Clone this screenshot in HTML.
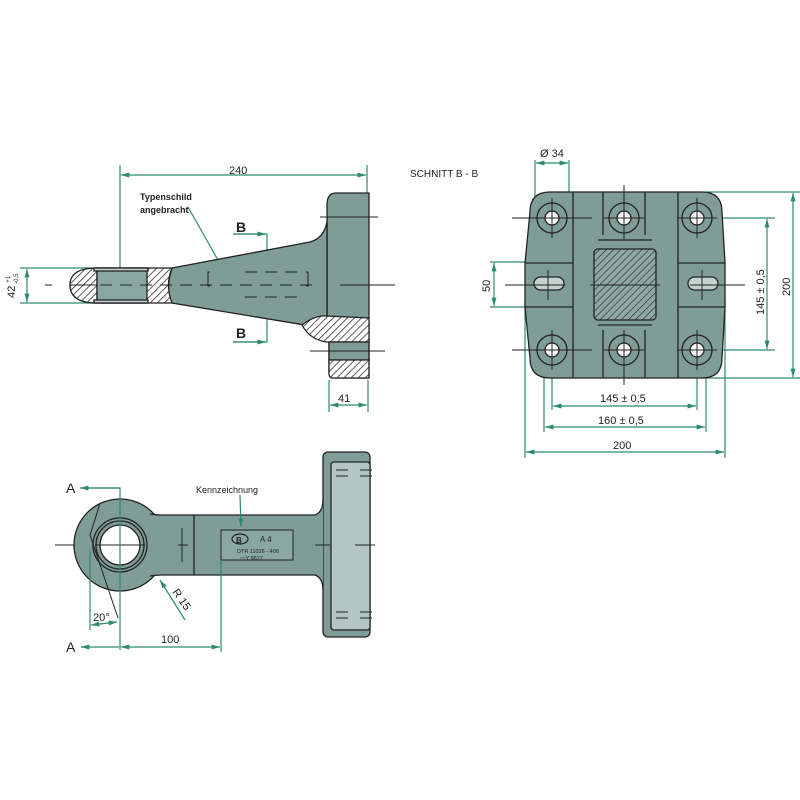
<!DOCTYPE html>
<html><head><meta charset="utf-8"><style>
html,body{margin:0;padding:0;background:#fff}
svg{display:block}
text{font-family:"Liberation Sans",sans-serif;fill:#222}
</style></head><body>
<svg width="800" height="800" viewBox="0 0 800 800">
<defs>
<pattern id="h" width="5" height="5" patternUnits="userSpaceOnUse" patternTransform="rotate(45)">
<rect width="5" height="5" fill="#fff"/><line x1="0" y1="0" x2="0" y2="5" stroke="#333" stroke-width="1.6"/></pattern>
<pattern id="hg" width="5" height="5" patternUnits="userSpaceOnUse" patternTransform="rotate(45)">
<rect width="5" height="5" fill="#8fa8a3"/><line x1="0" y1="0" x2="0" y2="5" stroke="#333" stroke-width="1.4"/></pattern>
<marker id="a" viewBox="0 0 10 10" refX="10" refY="5" markerWidth="7" markerHeight="7" orient="auto-start-reverse"><path d="M0,2 L10,5 L0,8z" fill="#2e8a70"/></marker>
</defs>
<g stroke="#2e8a70" stroke-width="1.2" fill="none">
<line x1="120" y1="165" x2="120" y2="268"/><line x1="367" y1="165" x2="367" y2="193"/>
<line x1="121" y1="175" x2="366" y2="175" marker-start="url(#a)" marker-end="url(#a)"/>
<line x1="20" y1="268" x2="97" y2="268"/><line x1="20" y1="303" x2="97" y2="303"/>
<line x1="27" y1="269" x2="27" y2="302" marker-start="url(#a)" marker-end="url(#a)"/>
<line x1="329" y1="380" x2="329" y2="412"/><line x1="368" y1="380" x2="368" y2="412"/>
<line x1="330" y1="405" x2="367" y2="405" marker-start="url(#a)" marker-end="url(#a)"/>
<polyline points="233,234 267,234 267,342 233,342"/>
<line x1="233" y1="234" x2="266" y2="234" marker-end="url(#a)"/><line x1="233" y1="342" x2="266" y2="342" marker-end="url(#a)"/>
<line x1="188" y1="207" x2="227" y2="276" marker-end="url(#a)"/>
</g>
<text x="229" y="174" font-size="11">240</text>
<text x="140" y="200" font-size="9" font-weight="bold">Typenschild</text>
<text x="140" y="213" font-size="9" font-weight="bold">angebracht</text>
<text x="236" y="232" font-size="14" font-weight="bold">B</text>
<text x="236" y="338" font-size="14" font-weight="bold">B</text>
<text x="338" y="402" font-size="11">41</text>
<text transform="translate(15,298) rotate(-90)" font-size="11">42 <tspan font-size="6" dy="-5">+1</tspan><tspan font-size="6" dx="-8" dy="8">-0,5</tspan></text>
<text x="410" y="177" font-size="10">SCHNITT  B - B</text>
<g stroke="#222" stroke-width="1.3">
<path d="M336,193 L369,193 L369,378 L333,378 Q329,378 329,372 L329,318 L327,318 L327,205 Q327,193 336,193Z" fill="#7f9c97"/>
<path d="M172,268 L310,242 Q324,238 327,222 L327,318 Q315,316 305,325 L172,303 Q165,290 172,268Z" fill="#7f9c97"/>
<path d="M97,268 L172,268 Q165,285 172,303 L97,303Z" fill="url(#h)"/>
<path d="M97,268 Q70,268 70,285 Q70,303 97,303Z" fill="url(#h)"/>
<rect x="97" y="268" width="50" height="35" fill="#8aa7a2"/>
<rect x="94" y="268" width="54" height="3" fill="#c4d2cf"/><rect x="94" y="300" width="54" height="3" fill="#c4d2cf"/>
<path d="M302,325 Q315,315 327,316 L369,318 L369,342 L327,342 Q310,340 302,325Z" fill="url(#h)"/>
<rect x="329" y="342" width="40" height="18" fill="#7f9c97"/>
<path d="M329,360 L369,360 L369,378 L333,378 Q329,378 329,374Z" fill="url(#h)"/>
</g>
<g stroke="#222" stroke-width="1" fill="none">
<line x1="70" y1="285" x2="97" y2="285"/>
<line x1="45" y1="285" x2="52" y2="285"/><line x1="100" y1="285" x2="320" y2="285" stroke-dasharray="12,8"/>
<line x1="340" y1="285" x2="395" y2="285"/>
<path d="M210,272 h-2 v14 h2 M306,272 h2 v14 h-2"/>
<line x1="245" y1="272" x2="300" y2="272" stroke-dasharray="12,8"/><line x1="245" y1="297" x2="300" y2="297" stroke-dasharray="12,8"/>
<line x1="320" y1="217" x2="378" y2="217"/><line x1="310" y1="351" x2="385" y2="351"/>
</g>
<g stroke="#2e8a70" stroke-width="1.2" fill="none">
<line x1="535" y1="160" x2="535" y2="210"/><line x1="569" y1="160" x2="569" y2="210"/>
<line x1="536" y1="163" x2="568" y2="163" marker-start="url(#a)" marker-end="url(#a)"/>
<line x1="526" y1="252" x2="572" y2="252" marker-start="url(#a)" marker-end="url(#a)"/>
<line x1="490" y1="262" x2="530" y2="262"/><line x1="490" y1="307" x2="530" y2="307"/>
<line x1="494" y1="263" x2="494" y2="306" marker-start="url(#a)" marker-end="url(#a)"/>
<line x1="715" y1="218" x2="775" y2="218"/><line x1="715" y1="350" x2="775" y2="350"/>
<line x1="767" y1="219" x2="767" y2="349" marker-start="url(#a)" marker-end="url(#a)"/>
<line x1="705" y1="192" x2="800" y2="192"/><line x1="705" y1="378" x2="800" y2="378"/>
<line x1="793" y1="193" x2="793" y2="377" marker-start="url(#a)" marker-end="url(#a)"/>
<line x1="552" y1="370" x2="552" y2="410"/><line x1="697" y1="370" x2="697" y2="410"/>
<line x1="544" y1="300" x2="544" y2="432"/><line x1="706" y1="300" x2="706" y2="432"/>
<line x1="525" y1="300" x2="525" y2="458"/><line x1="725" y1="300" x2="725" y2="458"/>
<line x1="553" y1="406" x2="696" y2="406" marker-start="url(#a)" marker-end="url(#a)"/>
<line x1="545" y1="427" x2="705" y2="427" marker-start="url(#a)" marker-end="url(#a)"/>
<line x1="526" y1="452" x2="724" y2="452" marker-start="url(#a)" marker-end="url(#a)"/>
</g>
<text x="540" y="157" font-size="11">Ø 34</text>
<text x="541" y="249" font-size="11">50</text>
<text transform="translate(490,292) rotate(-90)" font-size="11">50</text>
<text transform="translate(764,315) rotate(-90)" font-size="11">145 ± 0,5</text>
<text transform="translate(790,296) rotate(-90)" font-size="11">200</text>
<text x="600" y="402" font-size="11">145 ± 0,5</text>
<text x="598" y="424" font-size="11">160 ± 0,5</text>
<text x="613" y="449" font-size="11">200</text>
<g stroke="#222" stroke-width="1.3">
<path d="M550,192 L702,192 Q722,192 722,212 L725,263 L725,307 L722,358 Q722,378 702,378 L550,378 Q530,378 530,358 L525,307 L525,263 L530,212 Q530,192 550,192Z" fill="#7f9c97"/>
<rect x="594" y="249" width="62" height="71" rx="4" fill="url(#hg)"/>
<g fill="none"><line x1="573" y1="192" x2="573" y2="378"/><line x1="603" y1="192" x2="603" y2="235"/><line x1="645" y1="192" x2="645" y2="235"/><line x1="603" y1="330" x2="603" y2="378"/><line x1="645" y1="330" x2="645" y2="378"/><line x1="678" y1="192" x2="678" y2="378"/>
<path d="M525,263 H573 M525,307 H573 M678,263 H725 M678,307 H725"/>
<line x1="598" y1="240" x2="652" y2="240"/><line x1="598" y1="325" x2="652" y2="325"/></g>
<g fill="#7f9c97"><circle cx="552" cy="218" r="15"/><circle cx="624" cy="218" r="15"/><circle cx="697" cy="218" r="15"/><circle cx="552" cy="350" r="15"/><circle cx="624" cy="350" r="15"/><circle cx="697" cy="350" r="15"/></g>
<g fill="#fff"><circle cx="552" cy="218" r="7"/><circle cx="624" cy="218" r="7"/><circle cx="697" cy="218" r="7"/><circle cx="552" cy="350" r="7"/><circle cx="624" cy="350" r="7"/><circle cx="697" cy="350" r="7"/></g>
<rect x="534" y="277" width="30" height="13" rx="6.5" fill="#c4d2cf"/><rect x="688" y="277" width="30" height="13" rx="6.5" fill="#c4d2cf"/>
</g>
<g stroke="#222" stroke-width="1"><path d="M512,218h80 M604,218h40 M677,218h40 M512,350h80 M604,350h40 M677,350h40 M552,198v40 M624,185v55 M697,198v40 M552,330v40 M624,330v55 M697,330v40 M505,285h60 M690,285h55 M590,285h70 M548,270v30 M702,270v30"/></g>
<!-- bottom view -->
<g stroke="#222" stroke-width="1.3">
<rect x="323" y="452" width="47" height="185" rx="5" fill="#7f9c97"/>
<rect x="331" y="462" width="39" height="168" rx="3" fill="#b3c6c2"/>
<circle cx="120" cy="545" r="46" fill="#7f9c97"/>
<path d="M140,515 L315,515 Q323,512 323,500 L323,590 Q323,577 315,575 L140,575Z" fill="#7f9c97" stroke="none"/>
<path d="M150,514 Q156,515 162,515 L315,515 Q323,512 323,500 M150,576 Q156,575 162,575 L315,575 Q323,578 323,590" fill="none"/>
<circle cx="120" cy="545" r="27" fill="none"/><circle cx="120" cy="545" r="24" fill="none"/>
<circle cx="120" cy="545" r="20" fill="#fff"/>
<line x1="194" y1="515" x2="194" y2="575"/>
<rect x="221" y="530" width="72" height="30" fill="#8aa7a2" stroke-width="1"/>
<ellipse cx="240" cy="539" rx="8" ry="5" fill="none" stroke-width="1.2"/>
</g>
<text x="236" y="543" font-size="8" font-weight="bold">B</text>
<text x="260" y="542" font-size="8">A  4</text>
<text x="237" y="553" font-size="5.5">DTR 11026 - 408</text>
<text x="240" y="560" font-size="5.5">〰Y 9627</text>
<g stroke="#222" stroke-width="1" fill="none">
<path d="M55,545h20 M95,545h50 M178,545h10 M315,545h15 M355,545h20 M120,518v15 M120,565v15 M182,528v34 M336,470h12 M336,476h12 M360,470h12 M360,476h12 M336,612h12 M336,618h12 M360,612h12 M360,618h12"/>
<path d="M100,503 Q95,520 90,535 Q100,565 118,618"/>
</g>
<g stroke="#2e8a70" stroke-width="1.2" fill="none">
<polyline points="80,488 120,488 120,650"/><line x1="120" y1="488" x2="80" y2="488" marker-end="url(#a)"/>
<line x1="221" y1="560" x2="221" y2="652"/>
<line x1="81" y1="647" x2="119" y2="647" marker-start="url(#a)"/><line x1="121" y1="647" x2="220" y2="647" marker-start="url(#a)" marker-end="url(#a)"/>
<line x1="90" y1="550" x2="90" y2="630"/><line x1="91" y1="625" x2="117" y2="622" marker-start="url(#a)" marker-end="url(#a)"/>
<line x1="185" y1="620" x2="160" y2="580" marker-end="url(#a)"/>
<line x1="240" y1="495" x2="241" y2="527" marker-end="url(#a)"/>
</g>
<text x="66" y="493" font-size="14">A</text>
<text x="66" y="652" font-size="14">A</text>
<text x="161" y="643" font-size="11">100</text>
<text x="93" y="621" font-size="11">20°</text>
<text transform="translate(172,592) rotate(55)" font-size="11">R 15</text>
<text x="196" y="493" font-size="9">Kennzeichnung</text>
</svg>
</body></html>
